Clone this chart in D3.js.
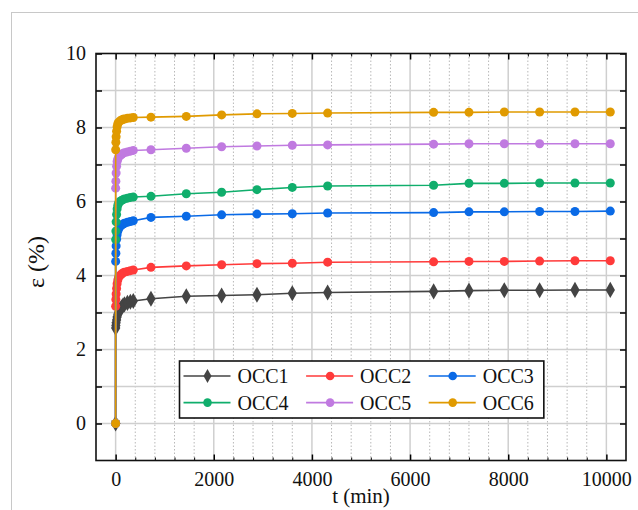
<!DOCTYPE html>
<html><head><meta charset="utf-8">
<script src="https://cdn.jsdelivr.net/npm/d3@7/dist/d3.min.js"></script>
<style>body{margin:0;background:#fff}svg{display:block}</style>
</head><body>
<svg id="c" width="638" height="510"></svg>
<script>
const times = [0, 1, 5, 10, 20, 30, 45, 60, 90, 120, 150, 180, 240, 300, 360, 720, 1440, 2160, 2880, 3600, 4320, 6480, 7200, 7920, 8640, 9360, 10080];
const seriesNames = ["OCC1", "OCC2", "OCC3", "OCC4", "OCC5", "OCC6"];
const occ1 = [0, 2.58, 2.65, 2.72, 2.80, 2.88, 2.95, 3.00, 3.08, 3.14, 3.19, 3.22, 3.26, 3.29, 3.31, 3.37, 3.44, 3.46, 3.48, 3.52, 3.54, 3.57, 3.59, 3.60, 3.60, 3.61, 3.61];
const occ2 = [0, 3.17, 3.35, 3.50, 3.65, 3.78, 3.88, 3.95, 4.00, 4.04, 4.07, 4.09, 4.11, 4.13, 4.15, 4.22, 4.26, 4.29, 4.32, 4.33, 4.36, 4.37, 4.38, 4.38, 4.39, 4.40, 4.40];
const occ3 = [0, 4.38, 4.60, 4.80, 4.98, 5.10, 5.20, 5.26, 5.32, 5.36, 5.39, 5.41, 5.44, 5.46, 5.48, 5.57, 5.60, 5.64, 5.66, 5.67, 5.69, 5.70, 5.72, 5.72, 5.73, 5.73, 5.74];
const occ4 = [0, 4.97, 5.20, 5.45, 5.65, 5.80, 5.90, 5.96, 6.00, 6.03, 6.05, 6.07, 6.09, 6.11, 6.12, 6.14, 6.21, 6.25, 6.32, 6.38, 6.42, 6.44, 6.49, 6.49, 6.50, 6.50, 6.50];
const occ5 = [0, 6.36, 6.55, 6.77, 6.95, 7.08, 7.15, 7.20, 7.24, 7.27, 7.30, 7.32, 7.34, 7.36, 7.38, 7.40, 7.44, 7.48, 7.50, 7.52, 7.53, 7.55, 7.56, 7.56, 7.56, 7.56, 7.56];
const occ6 = [0, 7.40, 7.60, 7.75, 7.90, 8.02, 8.10, 8.14, 8.18, 8.20, 8.22, 8.23, 8.25, 8.26, 8.27, 8.28, 8.30, 8.34, 8.37, 8.38, 8.39, 8.41, 8.41, 8.42, 8.42, 8.42, 8.42];
const seriesValues = [occ1, occ2, occ3, occ4, occ5, occ6];
const colors = ["#444444", "#ff3a3a", "#0a6ae6", "#10ae6c", "#c07ae0", "#e09a00"];
const xTickLabels = [0, 2000, 4000, 6000, 8000, 10000];
const yTickLabels = [0, 2, 4, 6, 8, 10];

const FONT = "Liberation Serif";
const svg = d3.select("#c");
const L = 96, R = 626, T = 53.5, B = 460.5;
const x = d3.scaleLinear().domain([-400, 10400]).range([L, R]);
const y = d3.scaleLinear().domain([-1, 10]).range([B, T]);

svg.append("rect").attr("x", 11.5).attr("y", 12.5).attr("width", 630).attr("height", 520)
  .attr("fill", "none").attr("stroke", "#c8c8c8").attr("stroke-width", 1);

const g = svg.append("g");
const minorX = d3.range(0, 10001, 400).filter(v => v % 2000 !== 0);
g.selectAll(".vmin").data(minorX).join("line")
  .attr("x1", d => x(d)).attr("x2", d => x(d)).attr("y1", T).attr("y2", B)
  .attr("stroke", "#b8b8b8").attr("stroke-width", 1).attr("stroke-dasharray", "1.5,2");
g.selectAll(".vmaj").data(xTickLabels).join("line")
  .attr("x1", d => x(d)).attr("x2", d => x(d)).attr("y1", T).attr("y2", B)
  .attr("stroke", "#cfcfcf").attr("stroke-width", 1.5);
g.selectAll(".hg").data(d3.range(0, 10)).join("line")
  .attr("x1", L).attr("x2", R).attr("y1", d => y(d)).attr("y2", d => y(d))
  .attr("stroke", "#cfcfcf").attr("stroke-width", 1.5);

const yAll = d3.range(0, 11);
const fixText = a => a.selectAll("text").attr("font-family", FONT).attr("fill", "#111");
svg.append("g").attr("transform", `translate(${L},0)`)
  .call(d3.axisLeft(y).tickValues(yAll).tickSize(-6).tickFormat(d => yTickLabels.includes(d) ? d : ""))
  .call(a => { a.attr("font-family", FONT).attr("font-size", 20); a.select(".domain").remove(); fixText(a); a.selectAll("text").attr("x", -10); a.selectAll("line").attr("stroke-width", 1.5); });
svg.append("g").attr("transform", `translate(${R},0)`)
  .call(d3.axisRight(y).tickValues(yAll).tickSize(-6).tickFormat(""))
  .call(a => { a.select(".domain").remove(); a.selectAll("line").attr("stroke-width", 1.5); });
svg.append("g").attr("transform", `translate(0,${B})`)
  .call(d3.axisBottom(x).tickValues(xTickLabels).tickSize(-6).tickFormat(d3.format("d")))
  .call(a => { a.attr("font-family", FONT).attr("font-size", 20); a.select(".domain").remove(); fixText(a); a.selectAll("text").attr("y", 11); a.selectAll("line").attr("stroke-width", 1.5); });
svg.append("g").attr("transform", `translate(0,${B})`)
  .call(d3.axisBottom(x).tickValues(minorX).tickSize(-3).tickFormat(""))
  .call(a => a.select(".domain").remove());
svg.append("g").attr("transform", `translate(0,${T})`)
  .call(d3.axisTop(x).tickValues(xTickLabels).tickSize(-6).tickFormat(""))
  .call(a => { a.select(".domain").remove(); a.selectAll("line").attr("stroke-width", 1.5); });
svg.append("g").attr("transform", `translate(0,${T})`)
  .call(d3.axisTop(x).tickValues(minorX).tickSize(-3).tickFormat(""))
  .call(a => a.select(".domain").remove());

const line = d3.line().x(d => x(d[0])).y(d => y(d[1]));
seriesValues.forEach((vals, i) => {
  const pts = times.map((t, k) => [t, vals[k]]);
  const sg = svg.append("g");
  sg.append("path").datum(pts).attr("d", line).attr("fill", "none")
    .attr("stroke", colors[i]).attr("stroke-width", 1.6);
  if (i === 0) {
    sg.selectAll("path.m").data(pts).join("path").attr("class", "m")
      .attr("transform", d => `translate(${x(d[0])},${y(d[1])})`)
      .attr("d", d3.symbol(d3.symbolDiamond, 75)).attr("fill", colors[i]);
  } else {
    sg.selectAll("circle").data(pts).join("circle")
      .attr("cx", d => x(d[0])).attr("cy", d => y(d[1])).attr("r", 4.5).attr("fill", colors[i]);
  }
});

svg.append("rect").attr("x", L).attr("y", T).attr("width", R - L).attr("height", B - T)
  .attr("fill", "none").attr("stroke", "#111").attr("stroke-width", 1.6);

svg.append("text").attr("x", (x(0) + x(10000)) / 2).attr("y", 503).attr("text-anchor", "middle")
  .attr("font-family", FONT).attr("font-size", 21).attr("fill", "#111").text("t (min)");
svg.append("text").attr("transform", "translate(44,262) rotate(-90)").attr("text-anchor", "middle")
  .attr("font-family", FONT).attr("font-size", 24).attr("fill", "#111").text("ε (%)");

const lg = svg.append("g");
const lx = 179.5, ly = 361, colW = 122.6;
const items = seriesNames.map((n, i) => ({ n, i, col: i % 3, row: Math.floor(i / 3) }));
const lgBox = lg.append("rect").attr("x", lx).attr("y", ly).attr("height", 57)
  .attr("fill", "#fff").attr("stroke", "#111").attr("stroke-width", 1.6);
const ent = lg.selectAll("g.e").data(items).join("g").attr("class", "e")
  .attr("transform", d => `translate(${lx + 4 + d.col * colW},${ly + 15 + d.row * 26.6})`);
ent.append("line").attr("x1", 0).attr("x2", 47).attr("stroke", d => colors[d.i]).attr("stroke-width", 1.6);
ent.each(function (d) {
  const e = d3.select(this);
  if (d.i === 0) e.append("path").attr("transform", "translate(24,0)").attr("d", d3.symbol(d3.symbolDiamond, 55)).attr("fill", colors[d.i]);
  else e.append("circle").attr("cx", 24).attr("r", 4.3).attr("fill", colors[d.i]);
});
ent.append("text").attr("x", 54).attr("y", 7).attr("font-family", FONT).attr("font-size", 20).attr("fill", "#111").text(d => d.n);
const lastText = ent.filter(d => d.i === 2).select("text").node();
const bb = lastText.getBBox();
lgBox.attr("width", 4 + 2 * colW + bb.x + bb.width + 10);
</script>
</body></html>
